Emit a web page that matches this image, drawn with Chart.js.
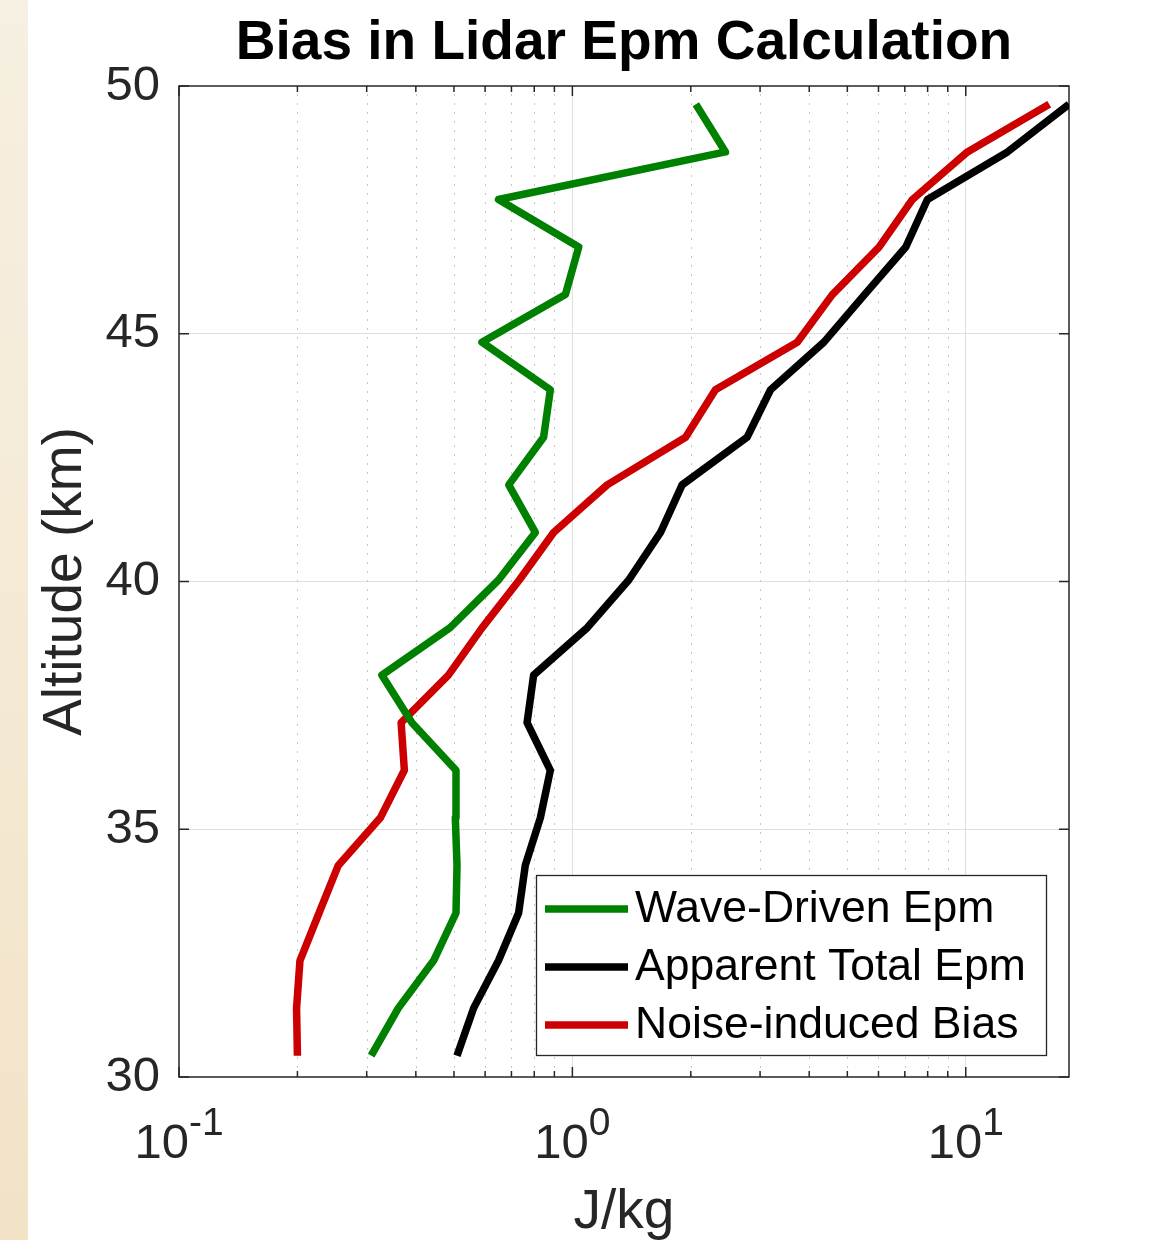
<!DOCTYPE html>
<html><head><meta charset="utf-8">
<script src="https://cdn.jsdelivr.net/npm/chart.js@4.4.1/dist/chart.umd.min.js"></script>
<style>
html,body{margin:0;padding:0;background:#fff;overflow:hidden;}
#wrap{position:relative;width:1149px;height:1240px;}
#strip{position:absolute;left:0;top:0;width:28px;height:1240px;background:linear-gradient(to bottom,#f6f0e2,#f2e3c7);}
canvas{position:absolute;left:0;top:0;}
</style></head><body>
<div id="wrap"><div id="strip"></div><canvas id="c" width="1149" height="1240"></canvas></div>
<script>
// ---- data ----
const altitudes = [30.43, 31.39, 32.35, 33.31, 34.27, 35.23, 36.19, 37.15, 38.11, 39.07, 40.03,
                   40.99, 41.95, 42.91, 43.87, 44.83, 45.79, 46.75, 47.71, 48.67, 49.63];
const waveDriven = [0.308, 0.361, 0.444, 0.506, 0.509, 0.504, 0.506, 0.391, 0.328, 0.489, 0.649,
                    0.805, 0.689, 0.845, 0.879, 0.589, 0.960, 1.038, 0.649, 2.45, 2.06];
const apparentTotal = [0.509, 0.561, 0.649, 0.730, 0.759, 0.829, 0.879, 0.767, 0.797, 1.092, 1.391,
                       1.675, 1.901, 2.78, 3.19, 4.36, 5.53, 7.04, 7.99, 12.77, 18.3];
const noiseBias = [0.200, 0.199, 0.203, 0.227, 0.254, 0.325, 0.374, 0.367, 0.484, 0.590, 0.733,
                   0.896, 1.226, 1.94, 2.31, 3.73, 4.58, 6.02, 7.32, 10.10, 16.3];
const seriesNames = ['Wave-Driven Epm', 'Apparent Total Epm', 'Noise-induced Bias'];
const xMajorTicks = [0.1, 1, 10];
const xMajorLabels = [['10', '-1'], ['10', '0'], ['10', '1']];
const xMinorTicks = [0.2, 0.3, 0.4, 0.5, 0.6, 0.7, 0.8, 0.9, 2, 3, 4, 5, 6, 7, 8, 9];
const yTicks = [30, 35, 40, 45, 50];
const xMin = 0.1, xMax = 18.3, yMin = 30, yMax = 50;

const FONT = "'Liberation Sans', Arial, Helvetica, sans-serif";
const AX = '#262626';

function pts(vals) { return altitudes.map((a, i) => ({x: vals[i], y: a})); }

const matlabAxes = {
  id: 'matlabAxes',
  beforeDatasetsDraw(chart) {
    const {ctx, chartArea: a, scales: {x, y}} = chart;
    ctx.save();
    // dotted minor grid
    ctx.strokeStyle = '#c6c6c6'; ctx.lineWidth = 1; ctx.setLineDash([2, 7]);
    xMinorTicks.forEach(v => {
      const px = Math.round(x.getPixelForValue(v)) + 0.5;
      ctx.beginPath(); ctx.moveTo(px, a.bottom); ctx.lineTo(px, a.top); ctx.stroke();
    });
    ctx.setLineDash([]);
    // box
    ctx.strokeStyle = AX; ctx.lineWidth = 1.5;
    ctx.strokeRect(a.left, a.top, a.right - a.left, a.bottom - a.top);
    // inward ticks
    ctx.lineWidth = 1.5;
    const tick = (x1, y1, x2, y2) => { ctx.beginPath(); ctx.moveTo(x1, y1); ctx.lineTo(x2, y2); ctx.stroke(); };
    xMajorTicks.forEach(v => {
      const px = x.getPixelForValue(v);
      tick(px, a.bottom, px, a.bottom - 10); tick(px, a.top, px, a.top + 10);
    });
    xMinorTicks.forEach(v => {
      const px = x.getPixelForValue(v);
      tick(px, a.bottom, px, a.bottom - 6); tick(px, a.top, px, a.top + 6);
    });
    yTicks.forEach(v => {
      const py = y.getPixelForValue(v);
      tick(a.left, py, a.left + 10, py); tick(a.right, py, a.right - 10, py);
    });
    ctx.restore();
  },
  afterDatasetsDraw(chart) {
    const {ctx, chartArea: a, scales: {x}} = chart;
    ctx.save();
    // x tick labels with superscript exponents
    ctx.fillStyle = AX; ctx.textBaseline = 'alphabetic'; ctx.textAlign = 'left';
    xMajorTicks.forEach((v, i) => {
      const [base, exp] = xMajorLabels[i];
      ctx.font = `49px ${FONT}`; const wb = ctx.measureText(base).width;
      ctx.font = `39px ${FONT}`; const we = ctx.measureText(exp).width;
      const start = x.getPixelForValue(v) - (wb + we) / 2;
      ctx.font = `49px ${FONT}`; ctx.fillText(base, start, 1158);
      ctx.font = `39px ${FONT}`; ctx.fillText(exp, start + wb, 1135);
    });
    // legend
    const bx = 536, by = 875, bw = 510, bh = 180;
    ctx.fillStyle = '#ffffff'; ctx.fillRect(bx, by, bw, bh);
    ctx.strokeStyle = AX; ctx.lineWidth = 1.3; ctx.strokeRect(bx + 0.5, by + 0.5, bw, bh);
    const rows = [909, 967, 1025];
    ctx.font = `44.5px ${FONT}`; ctx.textBaseline = 'middle';
    chart.data.datasets.forEach((ds, i) => {
      ctx.strokeStyle = ds.borderColor; ctx.lineWidth = 7.5; ctx.lineCap = 'butt';
      ctx.beginPath(); ctx.moveTo(545, rows[i]); ctx.lineTo(628, rows[i]); ctx.stroke();
      ctx.fillStyle = '#000'; ctx.fillText(ds.label, 635, rows[i] + 1);
    });
    ctx.restore();
  }
};

new Chart(document.getElementById('c'), {
  type: 'line',
  data: {
    datasets: [
      {label: seriesNames[0], data: pts(waveDriven), borderColor: '#008000'},
      {label: seriesNames[1], data: pts(apparentTotal), borderColor: '#000000'},
      {label: seriesNames[2], data: pts(noiseBias), borderColor: '#cc0000'}
    ].map(d => Object.assign(d, {borderWidth: 7.5, pointRadius: 0, tension: 0, fill: false,
                                  borderJoinStyle: 'round', borderCapStyle: 'butt'}))
  },
  options: {
    responsive: false, animation: false, devicePixelRatio: 1,
    layout: {padding: {left: 0, right: 80, top: 0, bottom: 0}},
    plugins: {
      legend: {display: false}, tooltip: {enabled: false},
      title: {display: true, text: 'Bias in Lidar Epm Calculation', color: '#000', fullSize: false,
              font: {family: FONT, size: 55, weight: 'bold', lineHeight: 1},
              padding: {top: 16.5, bottom: 14.5}}
    },
    scales: {
      x: {
        type: 'logarithmic', min: xMin, max: xMax, bounds: 'data',
        afterBuildTicks: s => { s.ticks = [...xMajorTicks, ...xMinorTicks].sort((p, q) => p - q).map(v => ({value: v})); },
        afterFit: s => { s.height = 163; },
        ticks: {display: false},
        border: {display: false},
        grid: {drawTicks: false, lineWidth: 1,
               color: c => (c.tick && (c.tick.value === 1 || c.tick.value === 10)) ? '#dedede' : 'rgba(0,0,0,0)'},
        title: {display: true, text: 'J/kg', color: AX, font: {family: FONT, size: 55, lineHeight: 1},
                padding: {top: 0, bottom: 0}}
      },
      y: {
        type: 'linear', min: yMin, max: yMax,
        afterBuildTicks: s => { s.ticks = yTicks.map(v => ({value: v})); },
        afterFit: s => { s.width = 179; },
        ticks: {color: AX, font: {family: FONT, size: 49}, padding: 19},
        border: {display: false},
        grid: {drawTicks: false, lineWidth: 1,
               color: c => (c.tick && c.tick.value > yMin && c.tick.value < yMax) ? '#dedede' : 'rgba(0,0,0,0)'},
        title: {display: true, text: 'Altitude (km)', color: AX, font: {family: FONT, size: 55, lineHeight: 1},
                padding: {top: 38.5, bottom: 0}}
      }
    }
  },
  plugins: [matlabAxes]
});
</script>
</body></html>
